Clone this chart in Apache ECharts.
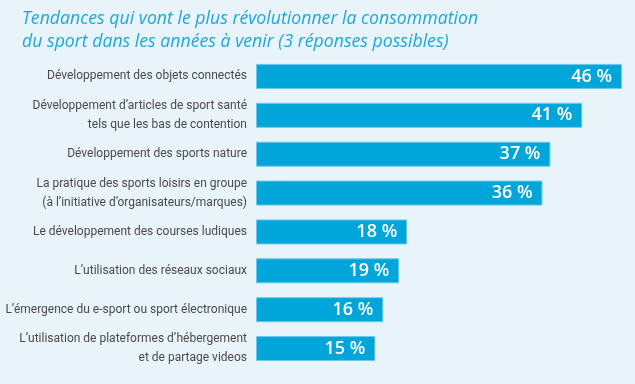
<!DOCTYPE html>
<html><head><meta charset="utf-8">
<script src="https://cdn.jsdelivr.net/npm/echarts@6/dist/echarts.min.js"></script>
<style>html,body{margin:0;padding:0;background:#e8f4f9;}#c{width:635px;height:384px;}</style>
</head><body><div id="c"></div>
<script>
const titleLines = [
  "Tendances qui vont le plus révolutionner la consommation",
  "du sport dans les années à venir (3 réponses possibles)"
];
const categories = [
  "Développement des objets connectés",
  "Développement d\u2019articles de sport santé\ntels que les bas de contention",
  "Développement des sports nature",
  "La pratique des sports loisirs en groupe\n(à l\u2019initiative d\u2019organisateurs/marques)",
  "Le développement des courses ludiques",
  "L\u2019utilisation des réseaux sociaux",
  "L\u2019émergence du e-sport ou sport électronique",
  "L\u2019utilisation de plateformes d\u2019hébergement\net de partage videos"
];
// bar lengths as drawn in the picture
const barValues = [46, 41, 37, 36, 19, 18, 16, 15];
// printed value labels
const valueLabels = ["46 %", "41 %", "37 %", "36 %", "18 %", "19 %", "16 %", "15 %"];

const chart = echarts.init(document.getElementById('c'));
chart.setOption({
  backgroundColor: '#e8f4f9',
  animation: false,
  title: {
    text: titleLines.join('\n'),
    left: 17, top: 2,
    textStyle: {
      fontFamily: 'Open Sans', fontStyle: 'italic', fontWeight: 'normal',
      fontSize: 17.7, lineHeight: 23, color: '#1ea7dc'
    }
  },
  grid: { left: 256, width: 366, top: 57, bottom: 16, containLabel: false, outerBoundsMode: 'none' },
  xAxis: { type: 'value', min: 0, max: 46, show: false },
  yAxis: {
    type: 'category', data: categories, inverse: true,
    axisLine: { show: false }, axisTick: { show: false },
    axisLabel: {
      margin: 9, color: '#4a4a4a', fontSize: 12, lineHeight: 19,
      fontFamily: 'Roboto'
    }
  },
  series: [{
    type: 'bar', data: barValues, barWidth: 25,
    itemStyle: { color: '#00a5d9', borderColor: '#6cc9ea', borderWidth: 1 },
    label: {
      show: true, position: 'insideRight', distance: 10,
      color: '#ffffff', fontSize: 18, fontFamily: '"Open Sans", sans-serif', fontWeight: 600,
      formatter: p => valueLabels[p.dataIndex]
    }
  }]
});
</script></body></html>
